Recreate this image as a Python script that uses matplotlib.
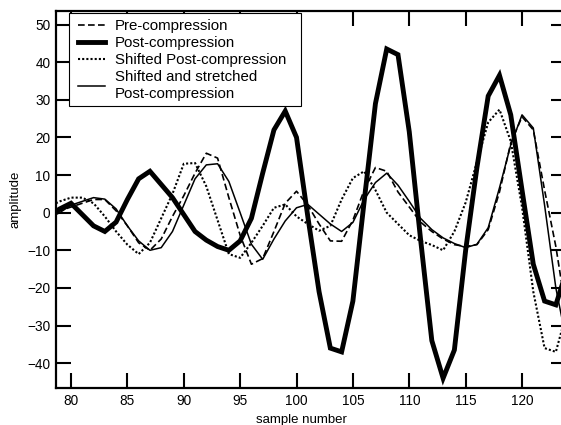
import matplotlib
matplotlib.use('Agg')
import matplotlib.pyplot as plt
from matplotlib.patches import Rectangle

plt.rcParams['font.family'] = ['Liberation Sans', 'DejaVu Sans']

# sample numbers 78..124 (the axis cuts off the outer ones)
sample = [78, 79, 80, 81, 82, 83, 84, 85, 86, 87, 88, 89, 90, 91, 92, 93,
          94, 95, 96, 97, 98, 99, 100, 101, 102, 103, 104, 105, 106, 107, 108,
          109, 110, 111, 112, 113, 114, 115, 116, 117, 118, 119, 120, 121, 122,
          123, 124]

pre = [-1, 0.5, 1.5, 2.5, 3.5, 3.5, 0.5, -3.5, -8, -10, -7, -1, 4.5, 10.5,
       15.8, 14.5, 4, -6, -13.7, -12.2, -5, 2.5, 5.7, 2, -3, -7.5, -7.6, -2,
       6, 12, 11, 5.5, 1.5, -2.5, -5, -7, -8.5, -9, -8.5, -4.5, 5.5, 18.5,
       25.5, 22, 6, -9, -28]

post = [-1, 1, 2.5, -0.5, -3.5, -5, -2.5, 3.5, 9, 11, 7.5, 4, -0.5, -5, -7.3,
        -9, -10, -7.5, -1.5, 10.5, 22, 27, 20, -1, -21, -36, -37, -23.5, 3,
        29, 43.5, 42, 21.5, -7, -34, -44, -36.5, -10, 12, 31, 36.5, 26, 6,
        -13.7, -23.5, -24.5, -15]

shifted = [1.5, 3, 4, 4, 2.5, -1, -5, -8.5, -11, -8, -1.5, 5, 13, 13.2, 7, -2,
           -11, -12, -8, -3.5, 1.3, 2.2, -1, -3, -4.8, -3.5, 3.5, 9.2, 11, 6,
           0, -3, -6, -7.5, -8.6, -10, -5, 2.7, 13.5, 24, 27.4, 19, 1.5, -21,
           -36, -37, -26]

stretched = [-1.5, 0, 2, 3, 4, 3.6, 1, -3.5, -7.5, -10, -9.3, -5, 2, 9, 12.7,
             13, 8.3, 0, -8.4, -12.4, -7, -2.2, 1.3, 2.2, -0.4, -3, -5, -2.6,
             3.5, 8, 10.5, 7.3, 3, -1.5, -4.5, -6.7, -8.2, -9.3, -8.4, -4, 6.6,
             18, 26, 22.5, 2, -20, -35]

W, H = 561, 425
fig = plt.figure(figsize=(W/100, H/100), dpi=100)
ax = fig.add_axes([56/W, 37/H, 510/W, 377/H])

ax.plot(sample, pre, color='black', lw=1.2, ls=(0, (4, 2)), label='Pre-compression')
ax.plot(sample, post, color='black', lw=3.5, solid_joinstyle='miter',
        label='Post-compression')
ax.plot(sample, shifted, color='black', lw=1.5, ls=(0, (1, 1)),
        label='Shifted Post-compression')
ax.plot(sample, stretched, color='black', lw=1.1,
        label='Shifted and stretched\nPost-compression')

ax.set_xlim(78.67, 123.9)
ax.set_ylim(-46.6, 53.6)
ax.set_xticks([80, 85, 90, 95, 100, 105, 110, 115, 120])
ax.set_yticks([-40, -30, -20, -10, 0, 10, 20, 30, 40, 50])

ax.tick_params(direction='in', length=10.5, width=1.5, top=True, right=True,
               labelsize=9.8, pad=4)
for sp in ax.spines.values():
    sp.set_linewidth(1.6)

ax.set_xlabel('sample number', fontsize=9.5)
ax.set_ylabel('amplitude', fontsize=9.5)
ax.xaxis.set_label_coords(0.481, -0.069)
ax.yaxis.set_label_coords(-0.067, 0.5)

# legend box drawn separately (it is wider than the text in the original)
box = Rectangle((69/W, 1 - 106/H), 232/W, 93/H, transform=fig.transFigure,
                facecolor='white', edgecolor='black', lw=0.8, zorder=4.5,
                clip_on=False)
ax.add_patch(box)
leg = ax.legend(loc='upper left', bbox_to_anchor=(22/510, 1 - 8/377),
                borderaxespad=0, borderpad=0, fontsize=10.8, frameon=False,
                handlelength=1.8, handletextpad=0.67, labelspacing=0.2)
for t in leg.get_texts():
    t.set_linespacing(1.3)

fig.savefig('out.png', dpi=100)
